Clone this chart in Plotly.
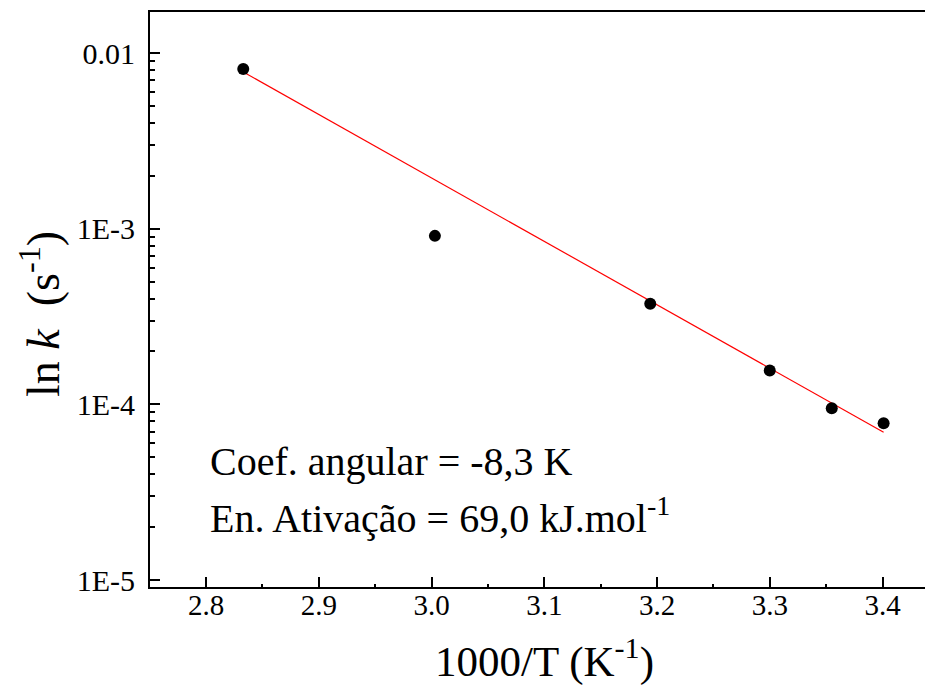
import plotly.graph_objects as go

# Data
inv_T = [2.833, 3.003, 3.194, 3.300, 3.355, 3.401]
k_vals = [8.1e-3, 9.1e-4, 3.74e-4, 1.56e-4, 9.5e-5, 7.8e-5]

fit_x = [2.833, 3.401]
fit_y = [7.8e-3, 6.93e-5]

y_tickvals = [1e-5, 1e-4, 1e-3, 1e-2]
y_ticktext = ["1E-5", "1E-4", "1E-3", "0.01"]
x_tickvals = [2.8, 2.9, 3.0, 3.1, 3.2, 3.3, 3.4]
x_ticktext = ["2.8", "2.9", "3.0", "3.1", "3.2", "3.3", "3.4"]

FONT = "Liberation Serif, Times New Roman, serif"

fig = go.Figure()
fig.add_trace(go.Scatter(x=fit_x, y=fit_y, mode="lines",
                         line=dict(color="#ff0000", width=1.2), showlegend=False))
fig.add_trace(go.Scatter(x=inv_T, y=k_vals, mode="markers",
                         marker=dict(color="black", size=12), showlegend=False))

fig.add_annotation(text="Coef. angular = -8,3 K", xref="paper", yref="paper",
                   x=0.0748, y=0.2174, xanchor="left", yanchor="middle",
                   showarrow=False, font=dict(family=FONT, size=40, color="black"))
fig.add_annotation(text="En. Ativação = 69,0 kJ.mol<sup>-1</sup>", xref="paper", yref="paper",
                   x=0.0748, y=0.1252, xanchor="left", yanchor="middle",
                   showarrow=False, font=dict(family=FONT, size=40, color="black"))

# axis titles
fig.add_annotation(text="1000/T (K<sup>-1</sup>)", xref="paper", yref="paper",
                   x=0.5084, y=-0.125, xanchor="center", yanchor="middle",
                   showarrow=False, font=dict(family=FONT, size=43, color="black"))
fig.add_annotation(text="ln <i>k</i>  (s<sup>-1</sup>)", xref="paper", yref="paper",
                   x=-0.1419, y=0.4748, xanchor="center", yanchor="middle", textangle=-90,
                   showarrow=False, font=dict(family=FONT, size=46, color="black"))

fig.update_layout(
    width=925, height=686,
    margin=dict(l=150, r=0, t=12, b=99),
    paper_bgcolor="white", plot_bgcolor="white",
    font=dict(family=FONT, color="black"),
    xaxis=dict(
        range=[2.7503, 3.4377], tickvals=x_tickvals, ticktext=x_ticktext,
        showgrid=False, zeroline=False,
        showline=True, linecolor="black", linewidth=2, mirror=True,
        ticks="inside", ticklen=10, tickwidth=2, tickcolor="black",
        tickfont=dict(family=FONT, size=29, color="black"),
        ticklabelstandoff=-9,
        minor=dict(tickvals=[2.85, 2.95, 3.05, 3.15, 3.25, 3.35], ticks="inside",
                   ticklen=3, tickwidth=1.5, tickcolor="black"),
    ),
    yaxis=dict(
        type="log", range=[-5.0398, -1.7666],
        tickvals=y_tickvals, ticktext=y_ticktext,
        showgrid=False, zeroline=False,
        showline=True, linecolor="black", linewidth=2,
        ticks="inside", ticklen=10, tickwidth=2, tickcolor="black",
        tickfont=dict(family=FONT, size=30, color="black"),
        ticklabelstandoff=7,
        minor=dict(dtick="D1", ticks="inside", ticklen=5, tickwidth=1.5, tickcolor="black"),
    ),
)

fig.write_html("out.html", config={"displayModeBar": False},
               post_script="document.body.style.margin='0';document.body.style.overflow='hidden';")
